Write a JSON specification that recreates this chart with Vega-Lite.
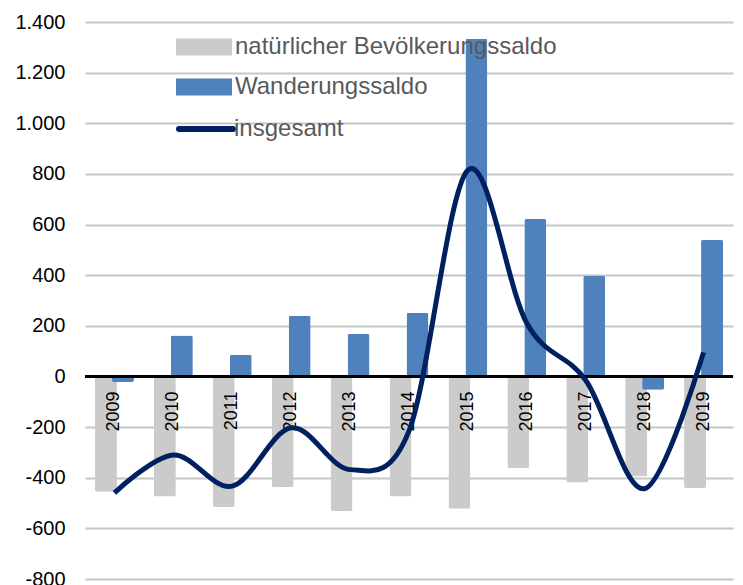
{
  "$schema": "https://vega.github.io/schema/vega-lite/v6.json",
  "autosize": "none",
  "width": 648,
  "height": 557,
  "padding": {"left": 85, "top": 22, "right": 10, "bottom": 6},
  "background": "white",
  "config": {
    "font": "Liberation Sans",
    "view": {"stroke": null}
  },
  "data": {
    "values": [
      {"Jahr": "2009", "Reihe": "natürlicher Bevölkerungssaldo", "Wert": -455},
      {"Jahr": "2010", "Reihe": "natürlicher Bevölkerungssaldo", "Wert": -474},
      {"Jahr": "2011", "Reihe": "natürlicher Bevölkerungssaldo", "Wert": -516},
      {"Jahr": "2012", "Reihe": "natürlicher Bevölkerungssaldo", "Wert": -437},
      {"Jahr": "2013", "Reihe": "natürlicher Bevölkerungssaldo", "Wert": -531},
      {"Jahr": "2014", "Reihe": "natürlicher Bevölkerungssaldo", "Wert": -474},
      {"Jahr": "2015", "Reihe": "natürlicher Bevölkerungssaldo", "Wert": -523},
      {"Jahr": "2016", "Reihe": "natürlicher Bevölkerungssaldo", "Wert": -362},
      {"Jahr": "2017", "Reihe": "natürlicher Bevölkerungssaldo", "Wert": -419},
      {"Jahr": "2018", "Reihe": "natürlicher Bevölkerungssaldo", "Wert": -395},
      {"Jahr": "2019", "Reihe": "natürlicher Bevölkerungssaldo", "Wert": -441},
      {"Jahr": "2009", "Reihe": "Wanderungssaldo", "Wert": -22},
      {"Jahr": "2010", "Reihe": "Wanderungssaldo", "Wert": 162},
      {"Jahr": "2011", "Reihe": "Wanderungssaldo", "Wert": 86},
      {"Jahr": "2012", "Reihe": "Wanderungssaldo", "Wert": 240},
      {"Jahr": "2013", "Reihe": "Wanderungssaldo", "Wert": 168},
      {"Jahr": "2014", "Reihe": "Wanderungssaldo", "Wert": 251},
      {"Jahr": "2015", "Reihe": "Wanderungssaldo", "Wert": 1334},
      {"Jahr": "2016", "Reihe": "Wanderungssaldo", "Wert": 622},
      {"Jahr": "2017", "Reihe": "Wanderungssaldo", "Wert": 398},
      {"Jahr": "2018", "Reihe": "Wanderungssaldo", "Wert": -53},
      {"Jahr": "2019", "Reihe": "Wanderungssaldo", "Wert": 540},
      {"Jahr": "2009", "Reihe": "insgesamt", "Wert": -460},
      {"Jahr": "2010", "Reihe": "insgesamt", "Wert": -310},
      {"Jahr": "2011", "Reihe": "insgesamt", "Wert": -433},
      {"Jahr": "2012", "Reihe": "insgesamt", "Wert": -203},
      {"Jahr": "2013", "Reihe": "insgesamt", "Wert": -368},
      {"Jahr": "2014", "Reihe": "insgesamt", "Wert": -215},
      {"Jahr": "2015", "Reihe": "insgesamt", "Wert": 815},
      {"Jahr": "2016", "Reihe": "insgesamt", "Wert": 210},
      {"Jahr": "2017", "Reihe": "insgesamt", "Wert": -15},
      {"Jahr": "2018", "Reihe": "insgesamt", "Wert": -443},
      {"Jahr": "2019", "Reihe": "insgesamt", "Wert": 95}
    ]
  },
  "encoding": {
    "x": {"field": "Jahr", "type": "nominal", "axis": null, "scale": {"type": "band", "paddingInner": 0, "paddingOuter": 0}},
    "y": {
      "field": "Wert", "type": "quantitative",
      "scale": {"domain": [-800, 1400], "nice": false, "zero": false},
      "axis": {
        "title": null, "values": [-800, -600, -400, -200, 0, 200, 400, 600, 800, 1000, 1200, 1400],
        "domain": false, "ticks": false, "grid": true, "gridColor": "#c6c6c6", "gridWidth": 2,
        "labelFontSize": 20, "labelColor": "#000000", "labelPadding": 20,
        "labelExpr": "replace(replace(format(datum.value, ','), ',', '.'), '\u2212', '-')"
      }
    }
  },
  "layer": [
    {
      "transform": [{"filter": "datum.Reihe === 'natürlicher Bevölkerungssaldo'"}],
      "mark": {"type": "bar", "width": 22, "xOffset": -8.5, "cornerRadius": 2},
      "encoding": {
        "color": {
          "field": "Reihe", "type": "nominal",
          "scale": {"domain": ["natürlicher Bevölkerungssaldo", "Wanderungssaldo"], "range": ["#cbcbcb", "#4f81bd"]},
          "legend": {
            "title": null, "orient": "none", "legendX": 91, "legendY": -3, "padding": 0,
            "symbolType": "M-1,-0.3H1V0.3H-1Z", "symbolSize": 3136, "symbolStrokeWidth": 0,
            "labelFontSize": 24, "labelColor": "#595959", "labelOffset": 3, "rowPadding": -13,
            "labelLimit": 500
          }
        }
      }
    },
    {
      "transform": [{"filter": "datum.Reihe === 'Wanderungssaldo'"}],
      "mark": {"type": "bar", "width": 22, "xOffset": 8.5, "cornerRadius": 2},
      "encoding": {
        "color": {"field": "Reihe", "type": "nominal"}
      }
    },
    {
      "mark": {"type": "rule", "color": "#000000", "strokeWidth": 2.5},
      "encoding": {"y": {"datum": 0}, "x": null}
    },
    {
      "transform": [{"filter": "datum.Reihe === 'Wanderungssaldo'"}],
      "mark": {"type": "text", "angle": 270, "align": "right", "baseline": "middle", "dx": -15, "fontSize": 18, "color": "#000000"},
      "encoding": {"y": {"datum": 0}, "text": {"field": "Jahr"}}
    },
    {
      "transform": [{"filter": "datum.Reihe === 'insgesamt'"}],
      "mark": {"type": "line", "strokeWidth": 5, "interpolate": "cardinal"},
      "encoding": {
        "stroke": {
          "datum": "insgesamt",
          "scale": {"range": ["#002060"]},
          "legend": {
            "title": null, "orient": "none", "legendX": 91, "legendY": 77, "padding": 0,
            "symbolType": "M-1,0H1", "symbolSize": 2916, "symbolStrokeWidth": 6,
            "labelFontSize": 24, "labelColor": "#595959", "labelOffset": -2,
            "encode": {"symbols": {"update": {"strokeCap": {"value": "round"}}}}
          }
        }
      }
    }
  ]
}
